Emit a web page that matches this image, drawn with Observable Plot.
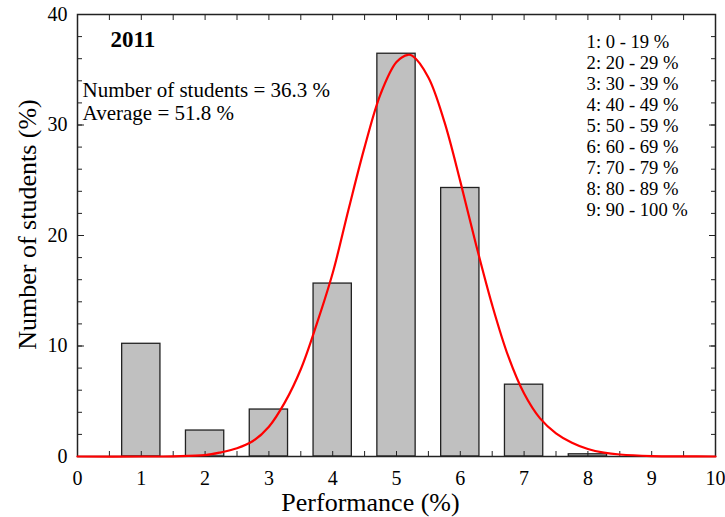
<!DOCTYPE html>
<html><head><meta charset="utf-8">
<script src="https://cdn.jsdelivr.net/npm/d3@7"></script>
<script src="https://cdn.jsdelivr.net/npm/@observablehq/plot@0.6"></script>
<style>body{margin:0;background:#fff} svg{display:block} svg, svg text{font-family:"Liberation Serif", "Times New Roman", serif !important}</style>
</head><body><div id="chart"></div>
<script>
const categories = [1, 2, 3, 4, 5, 6, 7, 8, 9];
const shares = [10.2, 2.35, 4.25, 15.65, 36.45, 24.3, 6.5, 0.2, 0];
const curveX = [0, 1, 1.5, 2, 2.25, 2.5, 2.75, 3, 3.25, 3.5, 3.75, 4, 4.25, 4.5, 4.75, 5, 5.18, 5.25, 5.5, 5.75, 6, 6.25, 6.5, 6.75, 7, 7.25, 7.5, 7.75, 8, 8.25, 8.5, 9, 9.5, 10];
const curveY = [0, 0, 0.02, 0.12, 0.38, 0.75, 1.4, 2.7, 4.9, 7.9, 12.0, 16.6, 22.4, 28.0, 32.8, 35.7, 36.35, 36.25, 34.3, 30.3, 24.9, 19.1, 13.7, 9.1, 5.7, 3.45, 2.1, 1.25, 0.68, 0.35, 0.18, 0.04, 0.01, 0];
const xTicks = [0, 1, 2, 3, 4, 5, 6, 7, 8, 9, 10];
const yTicks = [0, 10, 20, 30, 40];
const xTitle = "Performance (%)";
const yTitle = "Number of students (%)";
const legendLines = ["1: 0 - 19 %", "2: 20 - 29 %", "3: 30 - 39 %", "4: 40 - 49 %", "5: 50 - 59 %", "6: 60 - 69 %", "7: 70 - 79 %", "8: 80 - 89 %", "9: 90 - 100 %"];
const yearLabel = "2011";
const infoLines = ["Number of students = 36.3 %", "Average = 51.8 %"];

const bars = categories.map((c, i) => ({c, v: shares[i]})).filter(d => d.v > 0);
const curve = curveX.map((x, i) => ({x, y: curveY[i]}));
const xMinor = d3.range(0, 10.001, 0.5);
const yMinor = d3.range(0, 40.001, 2);
const font = "'Liberation Serif', 'Times New Roman', serif";

const chart = Plot.plot({
  width: 725, height: 517,
  marginLeft: 77, marginRight: 10, marginTop: 14, marginBottom: 61,
  style: {fontFamily: font, fontSize: "20px", color: "#000", background: "#fff"},
  x: {domain: [0, 10]},
  y: {domain: [0, 40]},
  marks: [
    Plot.rectY(bars, {x1: d => d.c - 0.3, x2: d => d.c + 0.3, y1: 0, y2: "v", fill: "#c0c0c0", stroke: "#222", strokeWidth: 1.3}),
    // inward minor/major ticks
    Plot.axisX({anchor: "bottom", ticks: xMinor, tickSize: 5, dy: -5, tickFormat: () => "", label: null, stroke: "#222"}),
    Plot.axisX({anchor: "top", ticks: xMinor, tickSize: 5, dy: 5, tickFormat: () => "", label: null, stroke: "#222"}),
    Plot.axisY({anchor: "left", ticks: yMinor, tickSize: 5, dx: 5, tickFormat: () => "", label: null, stroke: "#222"}),
    Plot.axisY({anchor: "right", ticks: yMinor, tickSize: 5, dx: -5, tickFormat: () => "", label: null, stroke: "#222"}),
    Plot.axisY({anchor: "left", ticks: yTicks, tickSize: 7, dx: 7, tickFormat: () => "", label: null, stroke: "#222"}),
    Plot.axisY({anchor: "right", ticks: yTicks, tickSize: 7, dx: -7, tickFormat: () => "", label: null, stroke: "#222"}),
    // tick labels
    Plot.axisX({anchor: "bottom", ticks: xTicks, tickSize: 0, tickPadding: 14, fontSize: 20, label: null}),
    Plot.axisY({anchor: "left", ticks: yTicks, tickSize: 0, tickPadding: 10, fontSize: 20, label: null}),
    // axis titles
    Plot.text([xTitle], {frameAnchor: "bottom", text: d => d, textAnchor: "middle", dx: -26, dy: 54, lineAnchor: "bottom", fontSize: 26}),
    Plot.text([yTitle], {frameAnchor: "left", text: d => d, textAnchor: "middle", rotate: -90, dx: -42, dy: -11, lineAnchor: "bottom", fontSize: 26}),
    Plot.frame({stroke: "#222", strokeWidth: 1.5}),
    Plot.line(curve, {x: "x", y: "y", stroke: "#ff0000", strokeWidth: 2.2, curve: "catmull-rom"}),
    Plot.text([yearLabel], {x: 0.517, y: 38.52, text: d => d, textAnchor: "start", lineAnchor: "top", fontWeight: "bold", fontSize: 23}),
    Plot.text([infoLines.join("\n")], {x: 0.08, y: 34.03, text: d => d, textAnchor: "start", lineAnchor: "top", fontSize: 21, lineHeight: 1.11}),
    Plot.text([legendLines.join("\n")], {x: 7.98, y: 38.3, text: d => d, textAnchor: "start", lineAnchor: "top", fontSize: 18.6, lineHeight: 1.13})
  ]
});
document.getElementById("chart").append(chart);
</script></body></html>
